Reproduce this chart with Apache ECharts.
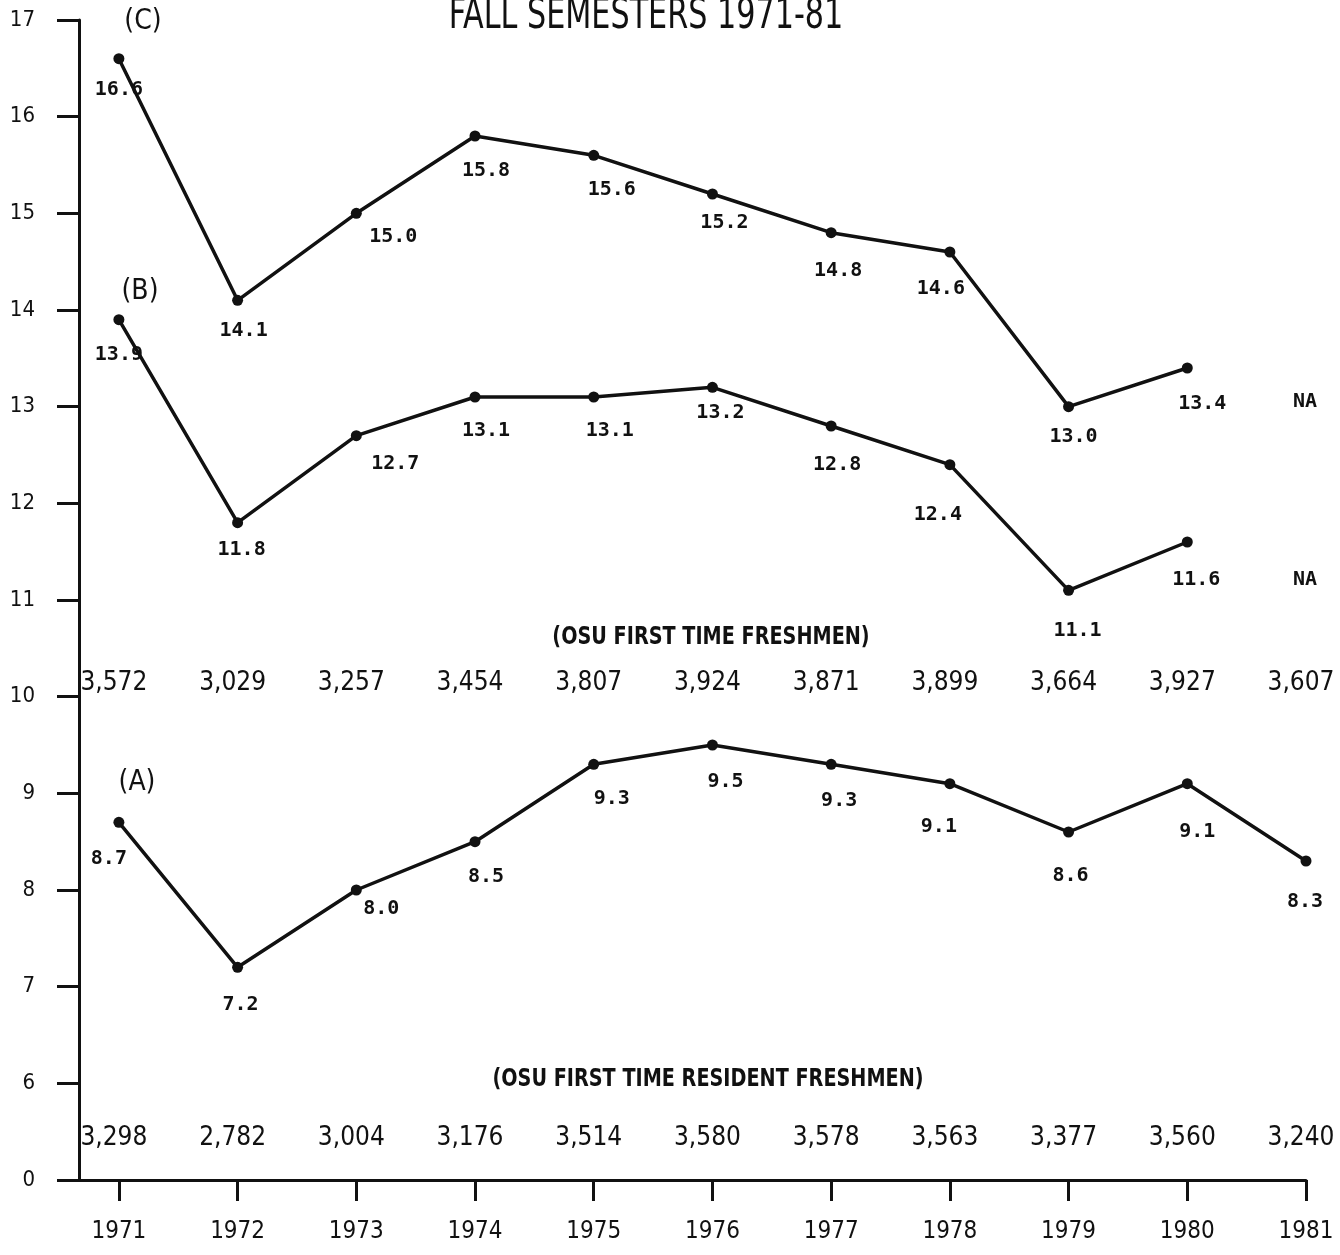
<!DOCTYPE html>
<html><head><meta charset="utf-8">
<script src="https://cdn.jsdelivr.net/npm/echarts@6/dist/echarts.min.js"></script>
<style>html,body{margin:0;padding:0;background:#fff}#c{width:1340px;height:1255px}</style>
</head><body><div id="c"></div>
<script>
// ---- data ----
const years = [1971,1972,1973,1974,1975,1976,1977,1978,1979,1980,1981];
const seriesC = [16.6,14.1,15.0,15.8,15.6,15.2,14.8,14.6,13.0,13.4,null];
const seriesB = [13.9,11.8,12.7,13.1,13.1,13.2,12.8,12.4,11.1,11.6,null];
const seriesA = [8.7,7.2,8.0,8.5,9.3,9.5,9.3,9.1,8.6,9.1,8.3];
const freshmen = ['3,572','3,029','3,257','3,454','3,807','3,924','3,871','3,899','3,664','3,927','3,607'];
const residentFreshmen = ['3,298','2,782','3,004','3,176','3,514','3,580','3,578','3,563','3,377','3,560','3,240'];
const yTickLabels = {5:'0'};

// ---- label offsets (style only) ----
const offC = [[0,31],[6,30],[37,23],[11,35],[18,34],[12,29],[7,38],[-9,37],[5,30],[15,36]];
const offB = [[0,35],[4,27],[39,28],[11,34],[16,34],[8,25],[6,39],[-12,50],[9,40],[9,38]];
const offA = [[-10,36],[3,37],[25,19],[11,35],[18,34],[13,37],[8,36],[-11,43],[2,44],[10,48],[-1,41]];

const NARROW = '"Liberation Sans Narrow","DejaVu Sans Condensed",sans-serif';
const MONO = '"DejaVu Sans Mono",monospace';

function lineSeries(name, vals, offs){
  const data = [];
  vals.forEach((v,i)=>{
    if (v==null) return;
    data.push({value:[years[i], v], label:{offset:offs[i]}});
  });
  return {
    name, type:'line', data, symbol:'circle', symbolSize:11,
    lineStyle:{color:'#111', width:3.5}, itemStyle:{color:'#111'},
    label:{show:true, position:'inside', formatter:p=>p.value[1].toFixed(1),
      color:'#111', fontFamily:MONO, fontWeight:'bold', fontSize:20},
    z:3, animation:false
  };
}
function textRow(name, texts, yVal, dx){
  return {
    name, type:'scatter', symbolSize:0, animation:false, silent:true,
    itemStyle:{opacity:1, color:'#111'},
    data: years.map((y,i)=>({value:[y, yVal], name:texts[i]})),
    label:{show:true, position:'inside', offset:[dx,0], formatter:p=>p.name,
      color:'#111', fontFamily:NARROW, fontSize:26}
  };
}
function txt(x, y, s, font, sx){
  return {type:'text', x, y, scaleX:sx||1, style:{text:s, font, fill:'#111', align:'center', verticalAlign:'middle'}};
}

const chart = echarts.init(document.getElementById('c'), null, {renderer:'canvas'});
chart.setOption({
  backgroundColor:'#fff',
  animation:false,
  grid:{left:79, right:34, top:20, bottom:75, containLabel:false},
  xAxis:{
    type:'value', min:1970.664, max:1981,
    axisLine:{lineStyle:{color:'#111', width:3}},
    axisTick:{show:true, customValues:years, length:21, lineStyle:{color:'#111', width:3}},
    axisLabel:{customValues:years, margin:40, color:'#111', fontFamily:NARROW, fontSize:24, formatter:v=>String(v)},
    splitLine:{show:false}
  },
  yAxis:{
    type:'value', min:5, max:17, interval:1,
    axisLine:{show:true, lineStyle:{color:'#111', width:3}},
    axisTick:{show:true, length:22, lineStyle:{color:'#111', width:3}},
    axisLabel:{margin:44, color:'#111', fontFamily:NARROW, fontSize:22, align:'right',
      formatter:v=> (yTickLabels[v]!==undefined ? yTickLabels[v] : String(v))},
    splitLine:{show:false}
  },
  graphic:[
    {type:'text', x:646, y:17, scaleX:0.8, style:{text:'FALL SEMESTERS 1971-81', font:'42px '+NARROW, fill:'#111', align:'center', verticalAlign:'middle'}},
    txt(143, 22, '(C)', '28px '+NARROW),
    txt(140, 292, '(B)', '28px '+NARROW),
    txt(137, 783, '(A)', '28px '+NARROW),
    txt(711, 638, '(OSU FIRST TIME FRESHMEN)', 'bold 24px '+NARROW, 0.89),
    txt(708, 1080, '(OSU FIRST TIME RESIDENT FRESHMEN)', 'bold 24px '+NARROW, 0.89),
    txt(1305, 402, 'NA', 'bold 20px '+MONO),
    txt(1305, 580, 'NA', 'bold 20px '+MONO)
  ],
  series:[
    lineSeries('C', seriesC, offC),
    lineSeries('B', seriesB, offB),
    lineSeries('A', seriesA, offA),
    textRow('freshmen', freshmen, 10.14, -5),
    textRow('resident', residentFreshmen, 5.43, -5)
  ]
});
</script></body></html>
